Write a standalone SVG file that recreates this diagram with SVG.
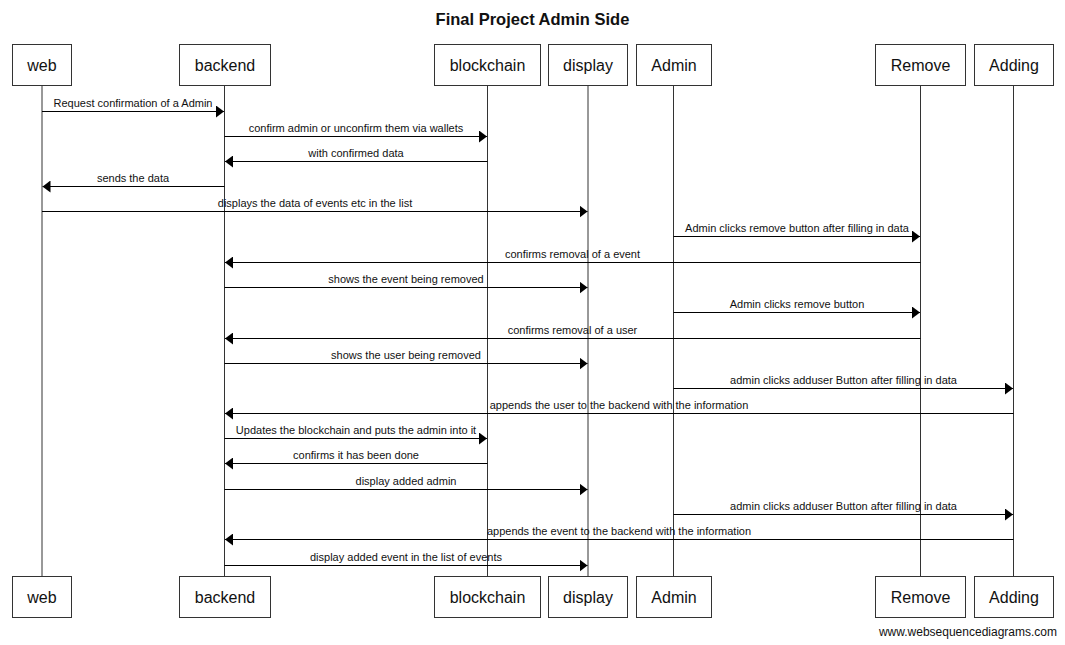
<svg xmlns="http://www.w3.org/2000/svg" width="1065" height="645" viewBox="0 0 1065 645">
<defs>
<marker id="ah" viewBox="0 0 8 12" refX="8" refY="6" markerWidth="8" markerHeight="12" markerUnits="userSpaceOnUse" orient="auto">
<path d="M0,0 L8,6 L0,12 Z" fill="#000"/>
</marker>
<style>
.box{fill:#fff;stroke:#333;stroke-width:1}
.pl{font-family:"Liberation Sans",Arial,sans-serif;font-size:16px;fill:#111;text-anchor:middle}
.life{stroke:#333;stroke-width:1;fill:none}
.msg{stroke:#000;stroke-width:1;fill:none;marker-end:url(#ah)}
.ml{font-family:"Liberation Sans",Arial,sans-serif;font-size:11px;fill:#111;text-anchor:middle}
.title{font-family:"Liberation Sans",Arial,sans-serif;font-size:16.5px;font-weight:bold;fill:#111;text-anchor:middle}
.wm{font-family:"Liberation Sans",Arial,sans-serif;font-size:12px;fill:#111;text-anchor:end}
</style>
</defs>
<rect width="1065" height="645" fill="#fff"/>
<text class="title" x="532.5" y="25">Final Project Admin Side</text>

<g id="lifelines">
<line class="life" x1="42" y1="85" x2="42" y2="576"/>
<line class="life" x1="224.5" y1="85" x2="224.5" y2="576"/>
<line class="life" x1="487.5" y1="85" x2="487.5" y2="576"/>
<line class="life" x1="588" y1="85" x2="588" y2="576"/>
<line class="life" x1="673.5" y1="85" x2="673.5" y2="576"/>
<line class="life" x1="920.5" y1="85" x2="920.5" y2="576"/>
<line class="life" x1="1013.5" y1="85" x2="1013.5" y2="576"/>
</g>

<g id="node-web">
<rect class="box" x="12.5" y="44.5" width="59" height="41"/>
<text class="pl" x="42" y="71">web</text>
<rect class="box" x="12.5" y="576.5" width="59" height="41"/>
<text class="pl" x="42" y="603">web</text>
</g>
<g id="node-backend">
<rect class="box" x="179.5" y="44.5" width="91" height="41"/>
<text class="pl" x="225" y="71">backend</text>
<rect class="box" x="179.5" y="576.5" width="91" height="41"/>
<text class="pl" x="225" y="603">backend</text>
</g>
<g id="node-blockchain">
<rect class="box" x="434.5" y="44.5" width="106" height="41"/>
<text class="pl" x="487.5" y="71">blockchain</text>
<rect class="box" x="434.5" y="576.5" width="106" height="41"/>
<text class="pl" x="487.5" y="603">blockchain</text>
</g>
<g id="node-display">
<rect class="box" x="548.5" y="44.5" width="79" height="41"/>
<text class="pl" x="588" y="71">display</text>
<rect class="box" x="548.5" y="576.5" width="79" height="41"/>
<text class="pl" x="588" y="603">display</text>
</g>
<g id="node-Admin">
<rect class="box" x="636.5" y="44.5" width="75" height="41"/>
<text class="pl" x="674" y="71">Admin</text>
<rect class="box" x="636.5" y="576.5" width="75" height="41"/>
<text class="pl" x="674" y="603">Admin</text>
</g>
<g id="node-Remove">
<rect class="box" x="875.5" y="44.5" width="90" height="41"/>
<text class="pl" x="920.5" y="71">Remove</text>
<rect class="box" x="875.5" y="576.5" width="90" height="41"/>
<text class="pl" x="920.5" y="603">Remove</text>
</g>
<g id="node-Adding">
<rect class="box" x="974.5" y="44.5" width="79" height="41"/>
<text class="pl" x="1014" y="71">Adding</text>
<rect class="box" x="974.5" y="576.5" width="79" height="41"/>
<text class="pl" x="1014" y="603">Adding</text>
</g>

<g id="connectors">
<line class="msg" x1="42" y1="111.5" x2="224" y2="111.5"/>
<text class="ml" x="133" y="107">Request confirmation of a Admin</text>

<line class="msg" x1="224.5" y1="136.5" x2="487" y2="136.5"/>
<text class="ml" x="356" y="132">confirm admin or unconfirm them via wallets</text>

<line class="msg" x1="487.5" y1="161.5" x2="225" y2="161.5"/>
<text class="ml" x="356" y="157">with confirmed data</text>

<line class="msg" x1="224.5" y1="186.5" x2="42.5" y2="186.5"/>
<text class="ml" x="133" y="182">sends the data</text>

<line class="msg" x1="42" y1="211.5" x2="587.5" y2="211.5"/>
<text class="ml" x="315" y="207">displays the data of events etc in the list</text>

<line class="msg" x1="673.5" y1="236.5" x2="920" y2="236.5"/>
<text class="ml" x="797" y="232">Admin clicks remove button after filling in data</text>

<line class="msg" x1="920.5" y1="262.5" x2="225" y2="262.5"/>
<text class="ml" x="572.5" y="258">confirms removal of a event</text>

<line class="msg" x1="224.5" y1="287.5" x2="587.5" y2="287.5"/>
<text class="ml" x="406" y="283">shows the event being removed</text>

<line class="msg" x1="673.5" y1="312.5" x2="920" y2="312.5"/>
<text class="ml" x="797" y="308">Admin clicks remove button</text>

<line class="msg" x1="920.5" y1="338.5" x2="225" y2="338.5"/>
<text class="ml" x="572.5" y="334">confirms removal of a user</text>

<line class="msg" x1="224.5" y1="363.5" x2="587.5" y2="363.5"/>
<text class="ml" x="406" y="359">shows the user being removed</text>

<line class="msg" x1="673.5" y1="388.5" x2="1013" y2="388.5"/>
<text class="ml" x="843.5" y="384">admin clicks adduser Button after filling in data</text>

<line class="msg" x1="1013.5" y1="413.5" x2="225" y2="413.5"/>
<text class="ml" x="619" y="409">appends the user to the backend with the information</text>

<line class="msg" x1="224.5" y1="438.5" x2="487" y2="438.5"/>
<text class="ml" x="356" y="434">Updates the blockchain and puts the admin into it</text>

<line class="msg" x1="487.5" y1="463.5" x2="225" y2="463.5"/>
<text class="ml" x="356" y="459">confirms it has been done</text>

<line class="msg" x1="224.5" y1="489.5" x2="587.5" y2="489.5"/>
<text class="ml" x="406" y="485">display added admin</text>

<line class="msg" x1="673.5" y1="514.5" x2="1013" y2="514.5"/>
<text class="ml" x="843.5" y="510">admin clicks adduser Button after filling in data</text>

<line class="msg" x1="1013.5" y1="539.5" x2="225" y2="539.5"/>
<text class="ml" x="619" y="535">appends the event to the backend with the information</text>

<line class="msg" x1="224.5" y1="565.5" x2="587.5" y2="565.5"/>
<text class="ml" x="406" y="561">display added event in the list of events</text>
</g>

<text class="wm" x="1057" y="636">www.websequencediagrams.com</text>
</svg>
